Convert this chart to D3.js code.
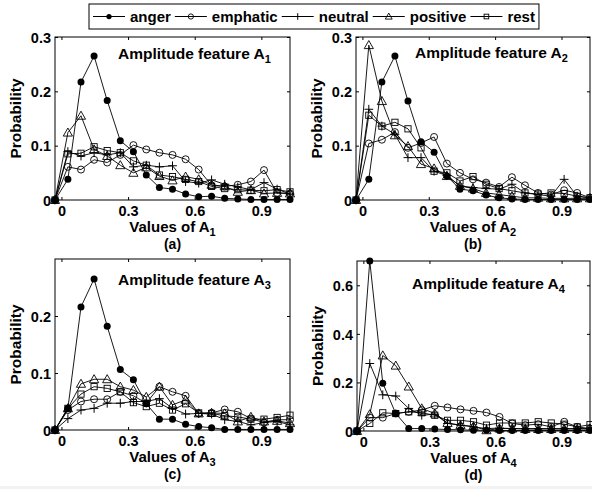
<!DOCTYPE html>
<html>
<head>
<meta charset="utf-8">
<script src="https://cdn.jsdelivr.net/npm/d3@7"></script>
<style>
  body { margin: 0; background: #fff; }
  text { font-family: "Liberation Sans", Arial, Helvetica, sans-serif; font-weight: bold; fill: #000; }
</style>
</head>
<body>
<div id="chart"></div>
<script>
// bin centres of the histograms (17 bins over [0,1] plus one on each side)
var xValues = [-0.029, 0.029, 0.088, 0.147, 0.206, 0.265, 0.324, 0.382, 0.441, 0.5,
               0.559, 0.618, 0.676, 0.735, 0.794, 0.853, 0.912, 0.971, 1.029];
var xTicks = [0, 0.3, 0.6, 0.9];
var classes = ['anger', 'emphatic', 'neutral', 'positive', 'rest'];

// feature A1
var a1Anger    = [0, 0.038, 0.217, 0.265, 0.183, 0.109, 0.089, 0.046, 0.023, 0.020, 0.011, 0.006, 0.007, 0.003, 0.002, 0.001, 0.001, 0.001, 0.001];
var a1Emphatic = [0, 0.061, 0.056, 0.074, 0.069, 0.083, 0.101, 0.093, 0.087, 0.083, 0.075, 0.056, 0.027, 0.025, 0.028, 0.034, 0.055, 0.013, 0.012];
var a1Neutral  = [0, 0.089, 0.081, 0.087, 0.083, 0.087, 0.061, 0.064, 0.061, 0.063, 0.034, 0.031, 0.037, 0.029, 0.024, 0.019, 0.032, 0.020, 0.011];
var a1Positive = [0, 0.124, 0.155, 0.093, 0.081, 0.064, 0.050, 0.060, 0.044, 0.036, 0.043, 0.038, 0.028, 0.025, 0.015, 0.018, 0.012, 0.013, 0.012];
var a1Rest     = [0, 0.085, 0.086, 0.098, 0.091, 0.087, 0.072, 0.064, 0.046, 0.043, 0.038, 0.034, 0.025, 0.021, 0.019, 0.018, 0.017, 0.019, 0.015];

// feature A2
var a2Anger    = [0, 0.038, 0.217, 0.265, 0.182, 0.107, 0.088, 0.044, 0.020, 0.017, 0.009, 0.004, 0.002, 0.001, 0.001, 0.001, 0.001, 0.001, 0.001];
var a2Emphatic = [0, 0.104, 0.111, 0.125, 0.096, 0.105, 0.116, 0.067, 0.050, 0.038, 0.032, 0.024, 0.042, 0.027, 0.013, 0.010, 0.018, 0.013, 0.004];
var a2Neutral  = [0, 0.167, 0.136, 0.121, 0.078, 0.078, 0.053, 0.045, 0.026, 0.023, 0.021, 0.020, 0.029, 0.013, 0.010, 0.007, 0.038, 0.007, 0.004];
var a2Positive = [0, 0.285, 0.182, 0.119, 0.099, 0.066, 0.058, 0.044, 0.026, 0.021, 0.013, 0.010, 0.007, 0.004, 0.004, 0.003, 0.003, 0.003, 0.003];
var a2Rest     = [0, 0.156, 0.136, 0.143, 0.131, 0.096, 0.053, 0.050, 0.035, 0.043, 0.029, 0.021, 0.017, 0.013, 0.011, 0.013, 0.012, 0.007, 0.004];

// feature A3
var a3Anger    = [0, 0.038, 0.216, 0.265, 0.182, 0.106, 0.088, 0.046, 0.019, 0.019, 0.010, 0.006, 0.004, 0.001, 0.001, 0.001, 0.001, 0.001, 0.001];
var a3Emphatic = [0, 0.035, 0.050, 0.054, 0.054, 0.067, 0.060, 0.047, 0.076, 0.067, 0.060, 0.029, 0.030, 0.036, 0.032, 0.020, 0.013, 0.018, 0.018];
var a3Neutral  = [0, 0.020, 0.035, 0.038, 0.047, 0.047, 0.050, 0.050, 0.055, 0.038, 0.028, 0.029, 0.028, 0.018, 0.015, 0.009, 0.013, 0.015, 0.009];
var a3Positive = [0, 0.038, 0.081, 0.089, 0.089, 0.076, 0.070, 0.058, 0.076, 0.044, 0.053, 0.029, 0.030, 0.029, 0.015, 0.023, 0.015, 0.016, 0.012];
var a3Rest     = [0, 0.038, 0.063, 0.076, 0.073, 0.067, 0.048, 0.041, 0.047, 0.035, 0.046, 0.030, 0.029, 0.025, 0.023, 0.019, 0.019, 0.022, 0.026];

// feature A4
var a4Anger    = [0, 0.700, 0.197, 0.072, 0.010, 0.010, 0.008, 0.006, 0.005, 0.003, 0.003, 0.002, 0.002, 0.002, 0.002, 0.002, 0.002, 0.002, 0.002];
var a4Emphatic = [0, 0.055, 0.055, 0.072, 0.079, 0.086, 0.104, 0.097, 0.089, 0.083, 0.076, 0.058, 0.031, 0.024, 0.028, 0.017, 0.038, 0.017, 0.010];
var a4Neutral  = [0, 0.278, 0.149, 0.144, 0.093, 0.065, 0.069, 0.031, 0.024, 0.017, 0.010, 0.012, 0.010, 0.010, 0.010, 0.010, 0.010, 0.010, 0.010];
var a4Positive = [0, 0.069, 0.311, 0.269, 0.183, 0.093, 0.072, 0.033, 0.024, 0.019, 0.003, 0.010, 0.010, 0.008, 0.008, 0.008, 0.008, 0.008, 0.008];
var a4Rest     = [0, 0.031, 0.075, 0.072, 0.079, 0.075, 0.065, 0.044, 0.044, 0.038, 0.024, 0.033, 0.033, 0.033, 0.038, 0.033, 0.028, 0.017, 0.026];

var panels = [
    { sub: '1', letter: '(a)', series: [a1Anger, a1Emphatic, a1Neutral, a1Positive, a1Rest],
      yMax: 0.3, yTicks: [0, 0.1, 0.2, 0.3],
      left: 55, right: 290, top: 37, bottom: 200, titleX: 118, titleY: 59 },
    { sub: '2', letter: '(b)', series: [a2Anger, a2Emphatic, a2Neutral, a2Positive, a2Rest],
      yMax: 0.3, yTicks: [0, 0.1, 0.2, 0.3],
      left: 356, right: 590, top: 37, bottom: 200, titleX: 415, titleY: 58 },
    { sub: '3', letter: '(c)', series: [a3Anger, a3Emphatic, a3Neutral, a3Positive, a3Rest],
      yMax: 0.3, yTicks: [0, 0.1, 0.2],
      left: 55, right: 290, top: 259, bottom: 430, titleX: 118, titleY: 285 },
    { sub: '4', letter: '(d)', series: [a4Anger, a4Emphatic, a4Neutral, a4Positive, a4Rest],
      yMax: 0.7, yTicks: [0, 0.2, 0.4, 0.6],
      left: 357, right: 590, top: 261, bottom: 431, titleX: 412, titleY: 289 }
];

var svg = d3.select('#chart').append('svg')
    .attr('width', 592)
    .attr('height', 489);

// marker drawing for each class
function drawMarker(g, cls, x, y, scale) {
    var s = scale || 1;
    if (cls === 'anger') {
        g.append('circle').attr('cx', x).attr('cy', y).attr('r', 3.5 * s)
            .attr('fill', '#000');
    } else if (cls === 'emphatic') {
        g.append('circle').attr('cx', x).attr('cy', y).attr('r', 3.5 * s)
            .attr('fill', 'none').attr('stroke', '#000').attr('stroke-width', 0.9);
    } else if (cls === 'neutral') {
        var h = 4.4 * s;
        g.append('path')
            .attr('d', 'M' + (x - h) + ',' + y + 'H' + (x + h) + 'M' + x + ',' + (y - h) + 'V' + (y + h))
            .attr('stroke', '#000').attr('stroke-width', 1);
    } else if (cls === 'positive') {
        var t = 4.6 * s;
        g.append('path')
            .attr('d', 'M' + x + ',' + (y - t) + 'L' + (x + t) + ',' + (y + t * 0.75) + 'L' + (x - t) + ',' + (y + t * 0.75) + 'Z')
            .attr('fill', 'none').attr('stroke', '#000').attr('stroke-width', 0.9);
    } else {
        var q = 3.1 * s;
        g.append('rect').attr('x', x - q).attr('y', y - q).attr('width', 2 * q).attr('height', 2 * q)
            .attr('fill', 'none').attr('stroke', '#000').attr('stroke-width', 0.9);
    }
}

panels.forEach(function (p) {
    var x = d3.scaleLinear().domain([xValues[0], xValues[xValues.length - 1]]).range([p.left, p.right]);
    var y = d3.scaleLinear().domain([0, p.yMax]).range([p.bottom, p.top]);
    var g = svg.append('g');

    // frame
    g.append('rect')
        .attr('x', p.left).attr('y', p.top)
        .attr('width', p.right - p.left).attr('height', p.bottom - p.top)
        .attr('fill', 'none').attr('stroke', '#000').attr('stroke-width', 1);

    // axes with inward ticks, on all four sides
    var fmt = function (d) { return d === 0 ? '0' : d3.format('.1f')(d); };
    var xb = g.append('g').attr('transform', 'translate(0,' + p.bottom + ')')
        .call(d3.axisBottom(x).tickValues(xTicks).tickSize(-3).tickPadding(6).tickFormat(fmt));
    var xt = g.append('g').attr('transform', 'translate(0,' + p.top + ')')
        .call(d3.axisTop(x).tickValues(xTicks).tickSize(-3).tickFormat(''));
    var yl = g.append('g').attr('transform', 'translate(' + p.left + ',0)')
        .call(d3.axisLeft(y).tickValues(p.yTicks).tickSize(-3).tickPadding(4).tickFormat(fmt));
    var yr = g.append('g').attr('transform', 'translate(' + p.right + ',0)')
        .call(d3.axisRight(y).tickValues(p.yTicks).tickSize(-3).tickFormat(''));
    [xb, xt, yl, yr].forEach(function (a) {
        a.select('.domain').remove();
        a.selectAll('line').attr('stroke', '#000');
        a.selectAll('text').attr('font-size', 14.5).attr('font-family', null);
    });
    xb.selectAll('text').attr('dy', '0.71em');
    yl.selectAll('text').attr('dy', '0.36em');

    // series lines and markers
    p.series.forEach(function (vals, i) {
        var line = d3.line().x(function (d, j) { return x(xValues[j]); }).y(function (d) { return y(d); });
        g.append('path').datum(vals)
            .attr('d', line)
            .attr('fill', 'none')
            .attr('stroke', '#000')
            .attr('stroke-width', 0.9);
        var mg = g.append('g');
        vals.forEach(function (v, j) {
            drawMarker(mg, classes[i], x(xValues[j]), y(v));
        });
    });

    // panel title
    var title = g.append('text').attr('x', p.titleX).attr('y', p.titleY).attr('font-size', 15.5);
    title.append('tspan').text('Amplitude feature A');
    title.append('tspan').text(p.sub).attr('font-size', 11).attr('dy', 4);

    // axis labels
    var cx = (p.left + p.right) / 2;
    var xl = g.append('text').attr('x', cx).attr('y', p.bottom + 32)
        .attr('text-anchor', 'middle').attr('font-size', 15);
    xl.append('tspan').text('Values of A');
    xl.append('tspan').text(p.sub).attr('font-size', 11).attr('dy', 4);

    g.append('text')
        .attr('transform', 'translate(' + (p.left - 34) + ',' + ((p.top + p.bottom) / 2) + ') rotate(-90)')
        .attr('text-anchor', 'middle')
        .attr('font-size', 15.5)
        .text('Probability');

    g.append('text').attr('x', cx).attr('y', p.bottom + 49)
        .attr('text-anchor', 'middle').attr('font-size', 14)
        .text(p.letter);
});

// legend
var legend = svg.append('g');
var legendBox = legend.append('rect')
    .attr('x', 89).attr('y', 4).attr('height', 25)
    .attr('fill', '#fff').attr('stroke', '#000').attr('stroke-width', 1);
var lx = 93;
classes.forEach(function (c) {
    legend.append('line')
        .attr('x1', lx).attr('x2', lx + 32).attr('y1', 16.5).attr('y2', 16.5)
        .attr('stroke', '#000').attr('stroke-width', 1);
    drawMarker(legend, c, lx + 16, 16.5, 0.75);
    var t = legend.append('text').attr('x', lx + 37).attr('y', 22)
        .attr('font-size', 15).text(c);
    lx = lx + 37 + t.node().getComputedTextLength() + 4;
});
legendBox.attr('width', lx - 89);

// faint scan edge at the bottom
svg.append('rect').attr('x', 0).attr('y', 486).attr('width', 592).attr('height', 3)
    .attr('fill', '#f2f2f2');
</script>
</body>
</html>
